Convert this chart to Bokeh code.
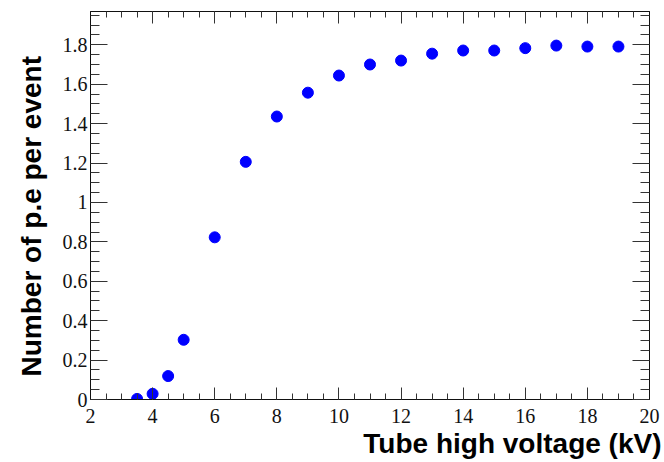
from bokeh.plotting import figure
from bokeh.models import (LinearAxis, FixedTicker, CustomJSTickFormatter, Range1d,
                          Title, CustomLabelingPolicy)
from bokeh.embed import file_html
from bokeh.resources import INLINE

# data
voltage_kv = [3.5, 4, 4.5, 5, 6, 7, 8, 9, 10, 11, 12, 13, 14, 15, 16, 17, 18, 19]
pe_per_event = [0.003, 0.029, 0.119, 0.303, 0.823, 1.206, 1.436, 1.557, 1.644,
                1.700, 1.720, 1.755, 1.771, 1.771, 1.783, 1.796, 1.791, 1.791]

x_major = [2, 4, 6, 8, 10, 12, 14, 16, 18, 20]
x_minor = [2 + 0.5 * i for i in range(37)]
y_major = [0, 0.2, 0.4, 0.6, 0.8, 1.0, 1.2, 1.4, 1.6, 1.8]
y_minor = [round(0.05 * i, 2) for i in range(40)]

x_title = "Tube high voltage (kV)"
y_title = "Number of p.e per event"

p = figure(width=664, height=462, output_backend="svg", toolbar_location=None,
           x_range=Range1d(2, 20), y_range=Range1d(0, 1.969),
           min_border_left=90, min_border_right=15, min_border_top=11, min_border_bottom=63)

p.xgrid.visible = False
p.ygrid.visible = False
p.outline_line_color = "#111111"
p.background_fill_color = "white"
p.border_fill_color = "white"

fmt = CustomJSTickFormatter(code="return String(Number(tick.toFixed(2)));")
no_labels = CustomLabelingPolicy(code="""
const all = [...indices];
for (const i of all) indices.unset(i);
return indices;
""")

def style_axis(ax, major, minor, tin, min_in, labels=True):
    ax.ticker = FixedTicker(ticks=major, minor_ticks=minor)
    ax.formatter = fmt
    ax.major_tick_in = tin
    ax.major_tick_out = 0
    ax.minor_tick_in = min_in
    ax.minor_tick_out = 0
    ax.axis_line_color = "#111111"
    ax.major_tick_line_color = "#333333"
    ax.minor_tick_line_color = "#333333"
    ax.major_label_text_font = "Liberation Serif"
    ax.major_label_text_color = "#111111"
    ax.major_label_text_font_size = "20px"
    if not labels:
        ax.major_label_policy = no_labels
        ax.major_label_standoff = 0
        ax.major_label_text_font_size = "1px"

xa = p.xaxis[0]
ya = p.yaxis[0]
style_axis(xa, x_major, x_minor, 12, 6)
style_axis(ya, y_major, y_minor, 17, 9)
xa.major_label_standoff = 9
ya.major_label_standoff = 3

top = LinearAxis()
style_axis(top, x_major, x_minor, 12, 6, labels=False)
p.add_layout(top, "above")
right = LinearAxis()
style_axis(right, y_major, y_minor, 17, 9, labels=False)
p.add_layout(right, "right")

p.add_layout(Title(text=x_title, align="right", text_font="Liberation Sans",
                   text_font_style="bold", text_font_size="28px", text_color="black",
                   standoff=0, offset=-12), "below")
p.add_layout(Title(text=y_title, align="left", text_font="Liberation Sans",
                   text_font_style="bold", text_font_size="28px", text_color="black",
                   standoff=26, offset=23), "left")

p.scatter(voltage_kv, pe_per_event, size=11, color="#0000ff", line_color="#0000ff")

open("out.html", "w").write(file_html(p, INLINE))
